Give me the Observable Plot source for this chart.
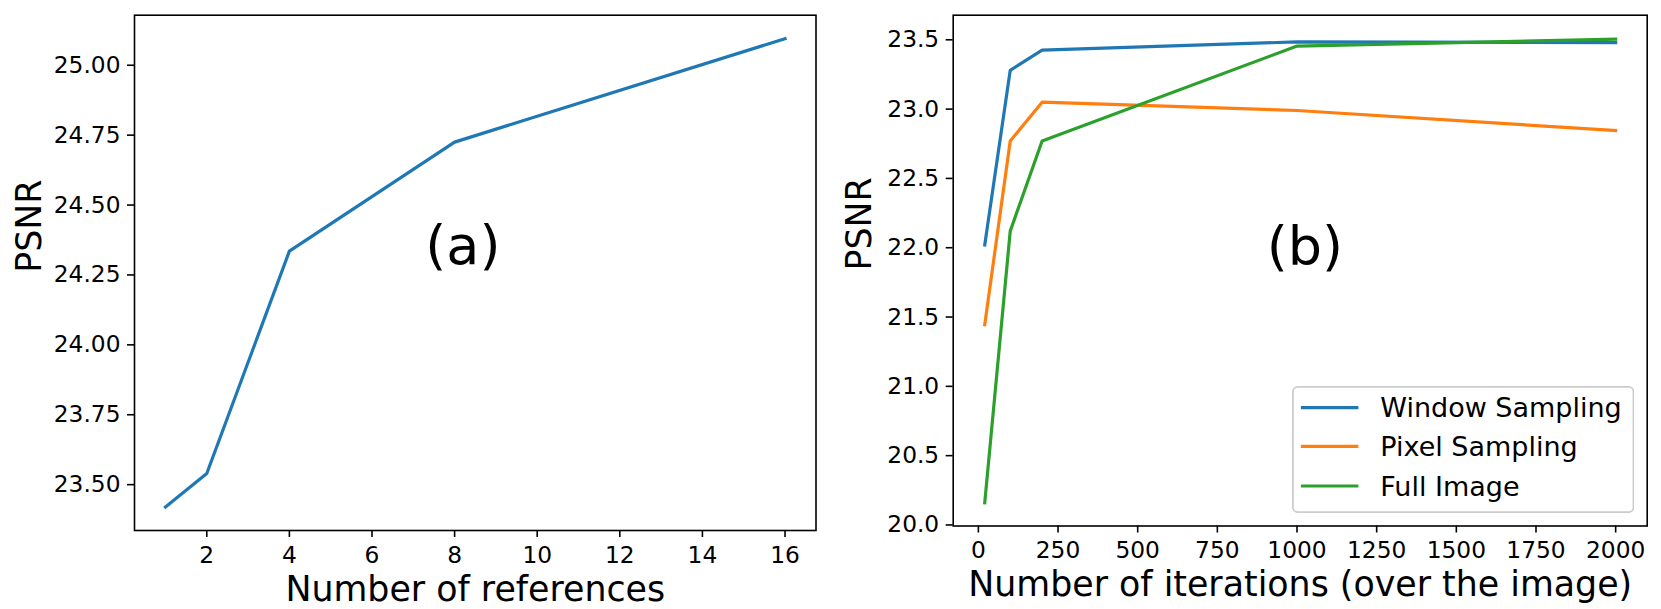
<!DOCTYPE html>
<html>
<head>
<meta charset="utf-8">
<script src="https://cdn.jsdelivr.net/npm/d3@7"></script>
<script src="https://cdn.jsdelivr.net/npm/@observablehq/plot@0.6"></script>
<style>
  html, body { margin: 0; padding: 0; background: white; }
  #root { position: relative; width: 1661px; height: 609px; overflow: hidden; background: white; font-family: "DejaVu Sans", sans-serif; }
  .panel { position: absolute; top: 0; }
  #legend { position: absolute; left: 1291.7px; top: 385.7px; }
</style>
</head>
<body>
<div id="root">
  <div class="panel" id="panelA" style="left:0px"></div>
  <div class="panel" id="panelB" style="left:830px"></div>
  <svg id="legend" width="342" height="127"></svg>
</div>
<script>
// ---- Data: panel (a) ----
const refs = [1, 2, 4, 8, 16];
const psnrRefs = [23.42, 23.54, 24.335, 24.725, 25.095];
const refTicks = [2, 4, 6, 8, 10, 12, 14, 16];
const psnrTicksA = [23.5, 23.75, 24.0, 24.25, 24.5, 24.75, 25.0];

// ---- Data: panel (b) ----
const iters = [20, 100, 200, 1000, 2000];
const windowSampling = [22.02, 23.28, 23.425, 23.485, 23.48];
const pixelSampling = [21.445, 22.77, 23.05, 22.99, 22.845];
const fullImage = [20.16, 22.12, 22.77, 23.455, 23.505];
const iterTicks = [0, 250, 500, 750, 1000, 1250, 1500, 1750, 2000];
const psnrTicksB = [20.0, 20.5, 21.0, 21.5, 22.0, 22.5, 23.0, 23.5];

const seriesNames = ["Window Sampling", "Pixel Sampling", "Full Image"];
const seriesColors = ["#1f77b4", "#ff7f0e", "#2ca02c"];
const seriesValues = [windowSampling, pixelSampling, fullImage];

const annotA = [{label: "(a)", x: 8.2, y: 24.35}];
const annotB = [{label: "(b)", x: 1025, y: 22.0}];

// ---- Tables ----
const tableA = refs.map((r, i) => ({refs: r, psnr: psnrRefs[i]}));
const tableB = seriesNames.flatMap((name, s) =>
  iters.map((it, i) => ({series: name, iter: it, psnr: seriesValues[s][i]})));

const baseStyle = {fontFamily: "DejaVu Sans, sans-serif", fontSize: "23px", color: "black", background: "transparent", overflow: "visible"};
const lineOpts = {strokeWidth: 3.2, strokeLinecap: "square", strokeLinejoin: "round"};
const axisCommon = {tickSize: 7, fontSize: 23.3, label: null, strokeWidth: 1.6};
const labelSize = 34.8;

const plotA = Plot.plot({
  width: 830, height: 609,
  marginLeft: 134, marginRight: 14.5, marginTop: 14.7, marginBottom: 79,
  style: baseStyle,
  x: {domain: [0.25, 16.75]},
  y: {domain: [23.336, 25.179]},
  marks: [
    Plot.line(tableA, {x: "refs", y: "psnr", stroke: seriesColors[0], ...lineOpts}),
    Plot.frame({stroke: "black", strokeWidth: 1.6}),
    Plot.axisX({...axisCommon, ticks: refTicks, tickPadding: 9, tickFormat: d3.format("d")}),
    Plot.axisY({...axisCommon, ticks: psnrTicksA, tickPadding: 7, tickFormat: d3.format(".2f")}),
    Plot.text(["Number of references"], {text: d => d, frameAnchor: "bottom", lineAnchor: "bottom", dy: 70.7, fontSize: labelSize}),
    Plot.text(["PSNR"], {text: d => d, frameAnchor: "left", dx: -104.3, rotate: -90, fontSize: labelSize}),
    Plot.text(annotA, {x: "x", y: "y", text: "label", fontSize: 54})
  ]
});

const plotB = Plot.plot({
  width: 831, height: 609,
  marginLeft: 122.7, marginRight: 14.3, marginTop: 14.7, marginBottom: 83.5,
  style: baseStyle,
  x: {domain: [-79, 2099]},
  y: {domain: [19.9925, 23.6775]},
  color: {domain: seriesNames, range: seriesColors},
  marks: [
    Plot.line(tableB, {x: "iter", y: "psnr", stroke: "series", z: "series", ...lineOpts}),
    Plot.frame({stroke: "black", strokeWidth: 1.6}),
    Plot.axisX({...axisCommon, ticks: iterTicks, tickPadding: 8, tickFormat: d3.format("d")}),
    Plot.axisY({...axisCommon, ticks: psnrTicksB, tickPadding: 7, tickFormat: d3.format(".1f")}),
    Plot.text(["Number of iterations (over the image)"], {text: d => d, frameAnchor: "bottom", lineAnchor: "bottom", dy: 69.5, fontSize: labelSize}),
    Plot.text(["PSNR"], {text: d => d, frameAnchor: "left", dx: -93.7, rotate: -90, fontSize: labelSize}),
    Plot.text(annotB, {x: "x", y: "y", text: "label", fontSize: 54})
  ]
});

document.getElementById("panelA").appendChild(plotA);
document.getElementById("panelB").appendChild(plotB);

// ---- Legend (matplotlib-style box) ----
const lg = d3.select("#legend");
lg.append("rect")
  .attr("x", 0.9).attr("y", 0.9).attr("width", 340.6).attr("height", 125.3)
  .attr("rx", 5).attr("ry", 5)
  .attr("fill", "white").attr("fill-opacity", 0.8)
  .attr("stroke", "#cccccc").attr("stroke-width", 1.8);
const rowY = [21.6, 60.3, 100.0];
seriesNames.forEach((name, i) => {
  lg.append("line")
    .attr("x1", 10.5).attr("x2", 64.8)
    .attr("y1", rowY[i]).attr("y2", rowY[i])
    .attr("stroke", seriesColors[i]).attr("stroke-width", 3.2).attr("stroke-linecap", "square");
  lg.append("text")
    .attr("x", 88.3).attr("y", rowY[i]).attr("dy", "0.36em")
    .attr("font-family", "DejaVu Sans, sans-serif").attr("font-size", 27)
    .attr("fill", "black")
    .text(name);
});
</script>
</body>
</html>
